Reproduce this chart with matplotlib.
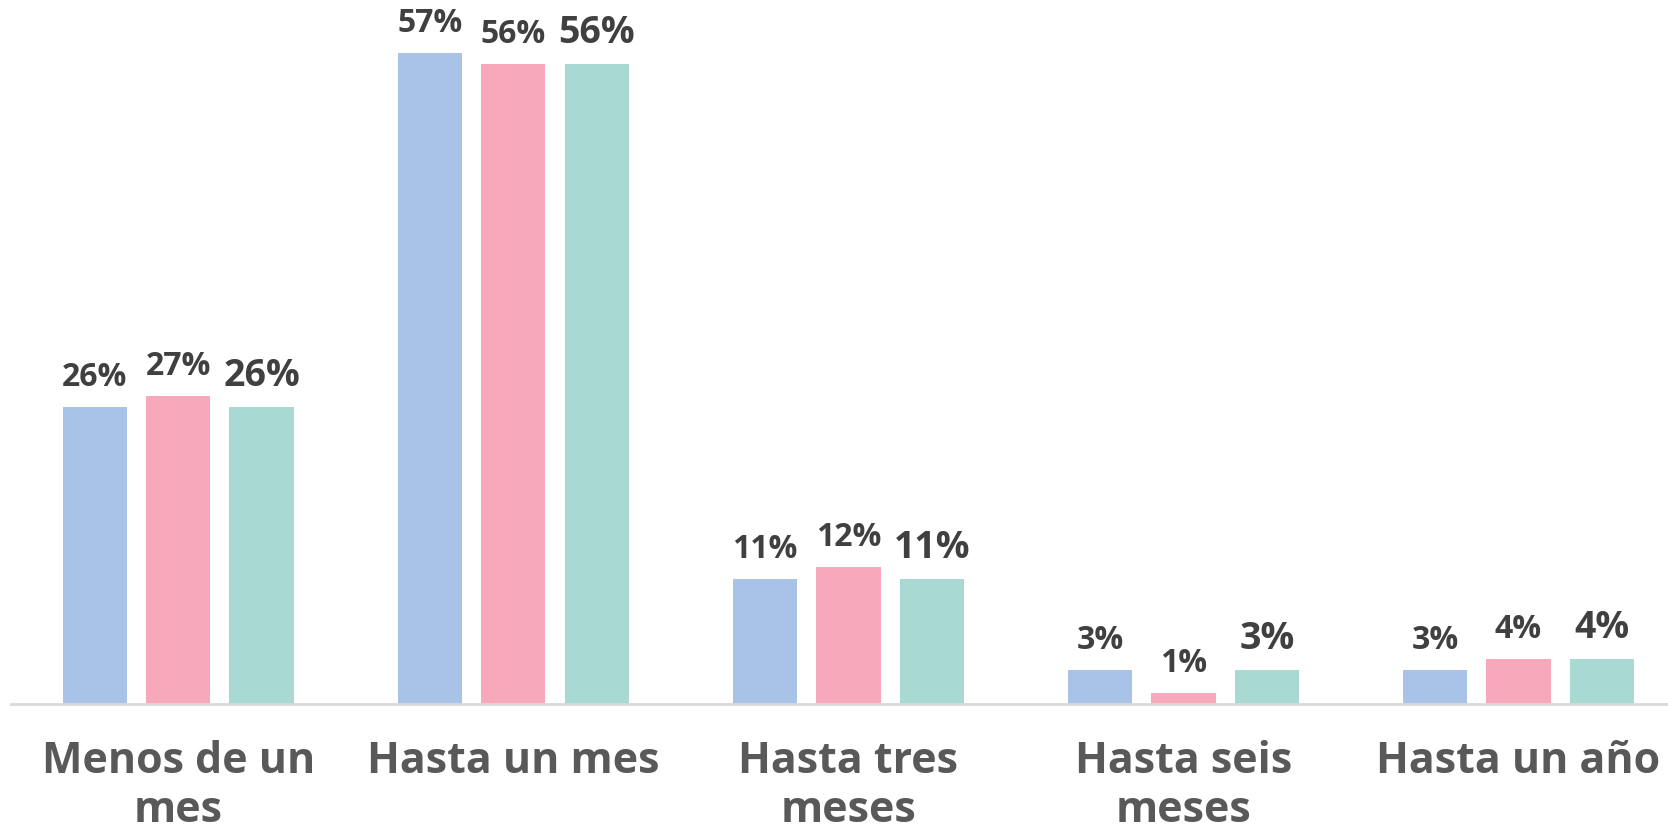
import matplotlib
matplotlib.use("Agg")
import matplotlib.pyplot as plt
from matplotlib.transforms import blended_transform_factory
import numpy as np

categories = ["Menos de un\nmes", "Hasta un mes", "Hasta tres\nmeses", "Hasta seis\nmeses", "Hasta un año"]
serie_a = [26, 57, 11, 3, 3]
serie_b = [27, 56, 12, 1, 4]
serie_c = [26, 56, 11, 3, 4]
series = [serie_a, serie_b, serie_c]
colors = ["#A9C2E8", "#F7A8BB", "#A8DAD3"]
label_sizes = [23, 23, 27]

plt.rcParams['font.family'] = ['Open Sans', 'DejaVu Sans']

W, H = 1668, 832
fig = plt.figure(figsize=(W / 100, H / 100), dpi=100)
left = 10.6 / W
bottom = (H - 704.3) / H
ax = fig.add_axes([left, bottom, 5 * 335.1 / W, 1 - bottom])

x = np.arange(len(categories))
bw = 0.192
off = 0.249
for i, (vals, col) in enumerate(zip(series, colors)):
    pos = x + (i - 1) * off
    ax.bar(pos, vals, width=bw, color=col, zorder=2)
    for p, v in zip(pos, vals):
        ax.annotate(f"{v}%", xy=(p, v), xytext=(0, 15), textcoords="offset points",
                    ha="center", va="baseline", fontsize=label_sizes[i],
                    fontweight="bold", color="#404040", annotation_clip=False)

ax.set_xlim(-0.5, 4.5)
ax.set_ylim(0, 704.3 / 11.43)
for s in ["top", "left", "right"]:
    ax.spines[s].set_visible(False)
ax.spines["bottom"].set_color("#D9D9D9")
ax.spines["bottom"].set_linewidth(2)
ax.set_yticks([])
ax.set_xticks([])

trans = blended_transform_factory(ax.transData, fig.transFigure)
baselines = [773, 822]
for xi, cat in zip(x, categories):
    for j, line in enumerate(cat.split("\n")):
        ax.text(xi, (H - baselines[j]) / H, line, transform=trans, ha="center", va="baseline",
                fontsize=31, fontweight="bold", color="#595959", clip_on=False)

fig.savefig("out.png", dpi=100)
